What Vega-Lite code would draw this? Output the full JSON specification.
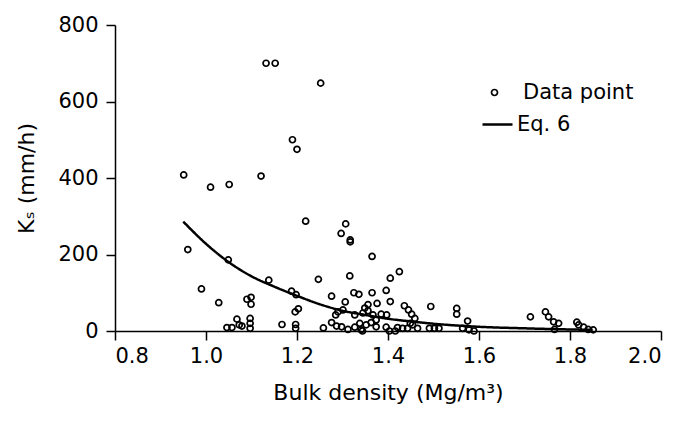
{
  "$schema": "https://vega.github.io/schema/vega-lite/v6.json",
  "autosize": {"type": "none"},
  "padding": {"left": 115, "top": 25, "right": 20, "bottom": 98},
  "width": 546,
  "height": 306,
  "background": "white",
  "config": {
    "view": {"stroke": null},
    "font": "DejaVu Sans",
    "axis": {
      "grid": false,
      "domainColor": "black",
      "domainWidth": 1.5,
      "tickColor": "black",
      "tickWidth": 1.5,
      "tickSize": 9,
      "labelFont": "DejaVu Sans",
      "labelFontSize": 21,
      "labelColor": "black",
      "titleFont": "DejaVu Sans",
      "titleFontSize": 22,
      "titleFontWeight": "normal",
      "titleColor": "black"
    },
    "legend": {
      "labelFont": "DejaVu Sans",
      "labelFontSize": 21,
      "labelColor": "black",
      "padding": 0,
      "title": null
    }
  },
  "datasets": {
    "points": [
      {"bd": 1.132, "ks": 700}, {"bd": 1.152, "ks": 700}, {"bd": 1.252, "ks": 648},
      {"bd": 1.190, "ks": 500}, {"bd": 1.200, "ks": 475}, {"bd": 0.951, "ks": 408},
      {"bd": 1.121, "ks": 405}, {"bd": 1.010, "ks": 376}, {"bd": 1.051, "ks": 383},
      {"bd": 1.219, "ks": 287}, {"bd": 1.307, "ks": 280}, {"bd": 1.297, "ks": 255},
      {"bd": 1.317, "ks": 238}, {"bd": 1.317, "ks": 233}, {"bd": 0.960, "ks": 213},
      {"bd": 1.365, "ks": 195}, {"bd": 1.049, "ks": 186}, {"bd": 1.425, "ks": 155},
      {"bd": 1.316, "ks": 144}, {"bd": 1.405, "ks": 138}, {"bd": 1.138, "ks": 133},
      {"bd": 1.247, "ks": 135}, {"bd": 0.990, "ks": 110}, {"bd": 1.188, "ks": 104},
      {"bd": 1.198, "ks": 95}, {"bd": 1.276, "ks": 91}, {"bd": 1.325, "ks": 100},
      {"bd": 1.336, "ks": 96}, {"bd": 1.365, "ks": 100}, {"bd": 1.396, "ks": 106},
      {"bd": 1.028, "ks": 74}, {"bd": 1.090, "ks": 83}, {"bd": 1.099, "ks": 88},
      {"bd": 1.099, "ks": 70}, {"bd": 1.306, "ks": 76}, {"bd": 1.376, "ks": 72},
      {"bd": 1.405, "ks": 77}, {"bd": 1.356, "ks": 69}, {"bd": 1.349, "ks": 60},
      {"bd": 1.436, "ks": 66}, {"bd": 1.445, "ks": 55}, {"bd": 1.452, "ks": 44},
      {"bd": 1.459, "ks": 33}, {"bd": 1.494, "ks": 64}, {"bd": 1.551, "ks": 59},
      {"bd": 1.551, "ks": 44}, {"bd": 1.575, "ks": 26}, {"bd": 1.203, "ks": 58},
      {"bd": 1.196, "ks": 50}, {"bd": 1.301, "ks": 55}, {"bd": 1.290, "ks": 50},
      {"bd": 1.285, "ks": 42}, {"bd": 1.327, "ks": 42}, {"bd": 1.345, "ks": 47},
      {"bd": 1.356, "ks": 53}, {"bd": 1.367, "ks": 42}, {"bd": 1.385, "ks": 44},
      {"bd": 1.397, "ks": 42}, {"bd": 1.374, "ks": 29}, {"bd": 1.713, "ks": 37},
      {"bd": 1.746, "ks": 50}, {"bd": 1.753, "ks": 37}, {"bd": 1.764, "ks": 24},
      {"bd": 1.775, "ks": 20}, {"bd": 1.766, "ks": 4}, {"bd": 1.815, "ks": 23},
      {"bd": 1.819, "ks": 16}, {"bd": 1.830, "ks": 10}, {"bd": 1.840, "ks": 4},
      {"bd": 1.851, "ks": 3}, {"bd": 1.046, "ks": 9}, {"bd": 1.057, "ks": 9},
      {"bd": 1.068, "ks": 31}, {"bd": 1.073, "ks": 16}, {"bd": 1.079, "ks": 13},
      {"bd": 1.097, "ks": 33}, {"bd": 1.097, "ks": 20}, {"bd": 1.097, "ks": 7},
      {"bd": 1.167, "ks": 17}, {"bd": 1.197, "ks": 17}, {"bd": 1.197, "ks": 7},
      {"bd": 1.258, "ks": 8}, {"bd": 1.276, "ks": 22}, {"bd": 1.287, "ks": 13},
      {"bd": 1.298, "ks": 11}, {"bd": 1.312, "ks": 4}, {"bd": 1.327, "ks": 10},
      {"bd": 1.338, "ks": 20}, {"bd": 1.341, "ks": 3}, {"bd": 1.352, "ks": 16},
      {"bd": 1.363, "ks": 22}, {"bd": 1.374, "ks": 11}, {"bd": 1.396, "ks": 10},
      {"bd": 1.403, "ks": 0}, {"bd": 1.416, "ks": 0}, {"bd": 1.344, "ks": 0},
      {"bd": 1.421, "ks": 9}, {"bd": 1.432, "ks": 7}, {"bd": 1.443, "ks": 7},
      {"bd": 1.454, "ks": 16}, {"bd": 1.465, "ks": 7}, {"bd": 1.491, "ks": 7},
      {"bd": 1.502, "ks": 7}, {"bd": 1.512, "ks": 7}, {"bd": 1.564, "ks": 7},
      {"bd": 1.578, "ks": 3}, {"bd": 1.589, "ks": 0}, {"bd": 1.449, "ks": 20}
    ],
    "curve": [
      {"bd": 0.95, "ks": 286}, {"bd": 1.0, "ks": 228}, {"bd": 1.05, "ks": 180},
      {"bd": 1.1, "ks": 143}, {"bd": 1.15, "ks": 116}, {"bd": 1.2, "ks": 92},
      {"bd": 1.25, "ks": 70}, {"bd": 1.3, "ks": 53}, {"bd": 1.35, "ks": 42},
      {"bd": 1.4, "ks": 32}, {"bd": 1.45, "ks": 25}, {"bd": 1.5, "ks": 19},
      {"bd": 1.6, "ks": 11}, {"bd": 1.7, "ks": 7}, {"bd": 1.8, "ks": 4},
      {"bd": 1.85, "ks": 3}
    ]
  },
  "encoding": {
    "x": {
      "field": "bd", "type": "quantitative",
      "scale": {"domain": [0.8, 2.0], "nice": false, "zero": false},
      "axis": {"values": [0.8, 1.0, 1.2, 1.4, 1.6, 1.8, 2.0], "format": ".1f", "labelPadding": 5, "titlePadding": 16, "title": "Bulk density (Mg/m³)"}
    },
    "y": {
      "field": "ks", "type": "quantitative",
      "scale": {"domain": [0, 800], "nice": false},
      "axis": {"values": [0, 200, 400, 600, 800], "labelPadding": 8, "titlePadding": 19, "title": "Kₛ (mm/h)"}
    }
  },
  "layer": [
    {
      "data": {"name": "points"},
      "mark": {"type": "point", "filled": false, "size": 36, "strokeWidth": 1.7, "opacity": 1},
      "encoding": {
        "color": {
          "datum": "Data point",
          "scale": {"domain": ["Data point"], "range": ["black"]},
          "legend": {
            "orient": "none",
            "legendX": 369,
            "legendY": 57,
            "symbolType": "circle",
            "symbolSize": 36,
            "symbolStrokeWidth": 1.7,
            "symbolFillColor": "transparent",
            "labelOffset": 18
          }
        }
      }
    },
    {
      "data": {"name": "curve"},
      "mark": {"type": "line", "strokeWidth": 2.5, "color": "black", "interpolate": "monotone"},
      "encoding": {
        "strokeDash": {
          "datum": "Eq. 6",
          "scale": {"domain": ["Eq. 6"], "range": [[1, 0]]},
          "legend": {
            "orient": "none",
            "legendX": 366,
            "legendY": 83,
            "symbolType": "stroke",
            "symbolSize": 900,
            "symbolStrokeWidth": 2.5,
            "symbolStrokeColor": "black",
            "labelOffset": 3
          }
        }
      }
    }
  ]
}
